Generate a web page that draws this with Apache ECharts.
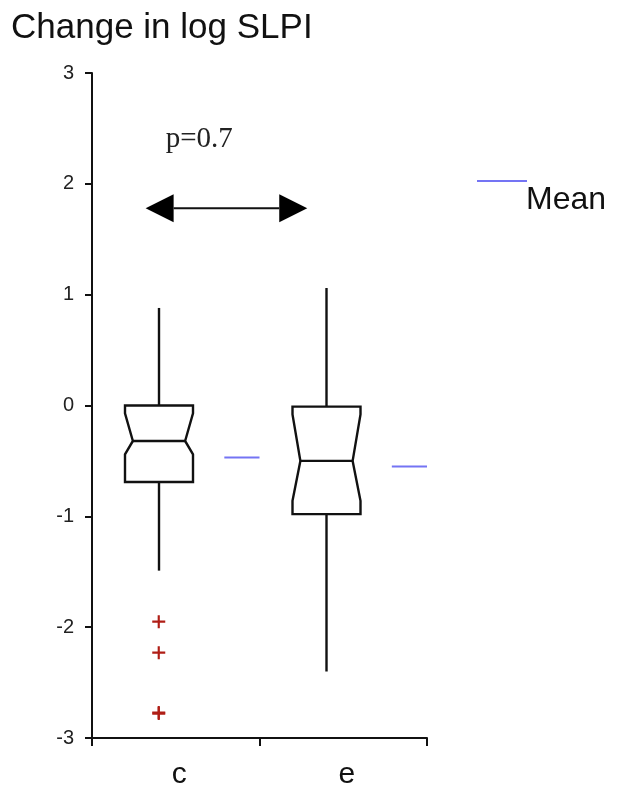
<!DOCTYPE html>
<html>
<head>
<meta charset="utf-8">
<script src="https://cdn.jsdelivr.net/npm/echarts@6/dist/echarts.min.js"></script>
<style>
  html, body { margin: 0; padding: 0; background: #fff; }
  #chart { width: 621px; height: 790px; }
</style>
</head>
<body>
<div id="chart"></div>
<script>
// groups on the x axis
var categories = ['c', 'e'];
// [whisker low, q1, notch low, median, notch high, q3, whisker high]
var boxStats = [
    [-1.49, -0.69, -0.44, -0.32, -0.07, 0.00, 0.88],
    [-2.40, -0.98, -0.86, -0.50, -0.08, -0.01, 1.06]
];
var meanValues = [-0.47, -0.55];
// outliers, only group c has them
var outlierValues = [[0, -1.95], [0, -2.23], [0, -2.77], [0, -2.78]];
var yTicks = [-3, -2, -1, 0, 1, 2, 3];
var pLabel = 'p=0.7';
var arrowLevel = 1.78;
var pLabelLevel = 2.40;

var boxData = boxStats.map(function (s, i) { return [i].concat(s); });
var meanData = meanValues.map(function (v, i) { return [i, v]; });

var chart = echarts.init(document.getElementById('chart'));

var option = {
    animation: false,
    title: [{
        text: 'Change in log SLPI',
        left: 6,
        top: 6,
        textStyle: {
            fontFamily: 'Liberation Sans, Arial',
            fontSize: 35,
            fontWeight: 'normal',
            color: '#111'
        }
    }, {
        // legend text sits lower than its line in the original
        text: 'Mean',
        left: 521,
        top: 179,
        textStyle: {
            fontFamily: 'Liberation Sans, Arial',
            fontSize: 32,
            fontWeight: 'normal',
            color: '#111'
        }
    }],
    legend: {
        data: [{ name: 'Mean', icon: 'rect' }],
        formatter: function () { return ''; },
        left: 472,
        top: 175,
        itemWidth: 50,
        itemHeight: 2
    },
    grid: { left: 92, right: 194, top: 73, bottom: 51 },
    xAxis: {
        type: 'category',
        data: categories,
        boundaryGap: true,
        axisLine: { onZero: false, lineStyle: { color: '#111', width: 2 } },
        axisTick: { show: true, length: 8, lineStyle: { color: '#111', width: 2 } },
        axisLabel: {
            margin: 22,
            padding: [0, 0, 0, 7],
            fontFamily: 'Liberation Sans, Arial',
            fontSize: 30,
            color: '#111'
        },
        splitLine: { show: false }
    },
    yAxis: {
        type: 'value',
        min: yTicks[0],
        max: yTicks[yTicks.length - 1],
        interval: 1,
        axisLine: { show: true, lineStyle: { color: '#111', width: 2 } },
        axisTick: { show: true, length: 7, lineStyle: { color: '#111', width: 2 } },
        axisLabel: {
            margin: 18,
            fontFamily: 'Liberation Sans, Arial',
            fontSize: 20,
            color: '#222'
        },
        splitLine: { show: false }
    },
    series: [
        {
            name: 'box',
            type: 'custom',
            data: boxData,
            z: 3,
            renderItem: function (params, api) {
                var idx = api.value(0);
                var band = api.size([1, 0])[0];
                var cx = api.coord([idx, 0])[0] - band * 0.10;
                var half = band * 0.203;
                var ind = band * 0.047;
                var y = function (d) { return api.coord([idx, api.value(d)])[1]; };
                var wLo = y(1), q1 = y(2), nLo = y(3), med = y(4), nHi = y(5), q3 = y(6), wHi = y(7);
                var x0 = cx - half, x1 = cx + half;
                var st = { stroke: '#111', lineWidth: 2.4, fill: null };
                return {
                    type: 'group',
                    children: [
                        { type: 'line', shape: { x1: cx, y1: q3, x2: cx, y2: wHi }, style: st },
                        { type: 'line', shape: { x1: cx, y1: q1, x2: cx, y2: wLo }, style: st },
                        {
                            type: 'polygon',
                            shape: { points: [
                                [x0, q3], [x0, nHi], [x0 + ind, med], [x0, nLo], [x0, q1],
                                [x1, q1], [x1, nLo], [x1 - ind, med], [x1, nHi], [x1, q3]
                            ] },
                            style: { stroke: '#111', lineWidth: 2.4, fill: '#fff' }
                        },
                        { type: 'line', shape: { x1: x0 + ind, y1: med, x2: x1 - ind, y2: med }, style: st }
                    ]
                };
            }
        },
        {
            name: 'Mean',
            type: 'custom',
            data: meanData,
            itemStyle: { color: '#7474f4' },
            z: 3,
            renderItem: function (params, api) {
                var idx = api.value(0);
                var band = api.size([1, 0])[0];
                var p = api.coord([idx, api.value(1)]);
                return {
                    type: 'line',
                    shape: { x1: p[0] + band * 0.29, y1: p[1], x2: p[0] + band * 0.50, y2: p[1] },
                    style: { stroke: '#7474f4', lineWidth: 2 }
                };
            }
        },
        {
            name: 'outliers',
            type: 'scatter',
            data: outlierValues,
            symbol: 'path://M5,0H7V5H12V7H7V12H5V7H0V5H5Z',
            symbolSize: 13,
            symbolOffset: [-17, 0],
            itemStyle: { color: '#b01e16', opacity: 1 },
            z: 4
        },
        {
            name: 'pvalue',
            type: 'custom',
            data: [[0, arrowLevel, pLabelLevel]],
            z: 5,
            renderItem: function (params, api) {
                var band = api.size([1, 0])[0];
                var ay = api.coord([0, api.value(1)])[1];
                var ty = api.coord([0, api.value(2)])[1];
                var xa = api.coord([0, 0])[0] - band * 0.18;
                var xb = api.coord([1, 0])[0] - band * 0.215;
                var head = 28, hh = 14;
                return {
                    type: 'group',
                    children: [
                        { type: 'line', shape: { x1: xa + head, y1: ay, x2: xb - head, y2: ay }, style: { stroke: '#111', lineWidth: 2 } },
                        { type: 'polygon', shape: { points: [[xa, ay], [xa + head, ay - hh], [xa + head, ay + hh]] }, style: { fill: '#000' } },
                        { type: 'polygon', shape: { points: [[xb, ay], [xb - head, ay - hh], [xb - head, ay + hh]] }, style: { fill: '#000' } },
                        {
                            type: 'text',
                            x: api.coord([0, 0])[0] - 10,
                            y: ty,
                            style: {
                                text: pLabel,
                                fontFamily: 'Liberation Serif, Times New Roman',
                                fontSize: 29,
                                fill: '#222',
                                align: 'left',
                                verticalAlign: 'middle'
                            }
                        }
                    ]
                };
            }
        }
    ]
};

chart.setOption(option);
</script>
</body>
</html>
